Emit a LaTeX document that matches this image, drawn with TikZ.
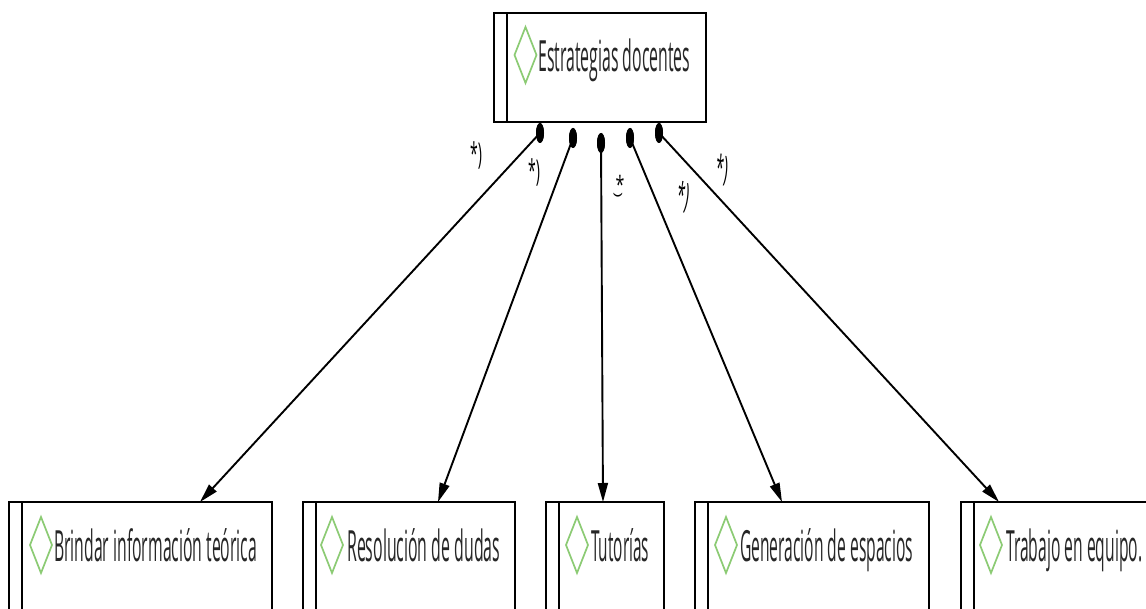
\documentclass[tikz,border=0pt]{standalone}
\usepackage{fontspec}
\setmainfont{Open Sans}
\usetikzlibrary{shapes.geometric,arrows.meta,calc}
\definecolor{diagreen}{HTML}{8CCB74}
\definecolor{txtgray}{HTML}{262626}
\newcommand\lbl[2]{\resizebox{#1pt}{\height}{\fontsize{43}{43}\selectfont #2}}
\newcommand\dmd[1]{\draw[diagreen,line width=1.7pt] ($(#1)+(0,-28)$) -- ($(#1)+(11,0)$) -- ($(#1)+(0,28)$) -- ($(#1)+(-11,0)$) -- cycle;}
\tikzset{
  box/.style={draw=black, line width=2.8pt, rectangle, anchor=north west, inner sep=0pt, outer sep=0pt, fill=white},
  innerline/.style={line width=2pt},
  dot/.style={ellipse, fill=black, minimum width=8pt, minimum height=20pt, inner sep=0pt},
  conn/.style={line width=1.9pt, -{Triangle[length=19pt,width=10pt]}},
  txt/.style={anchor=base west, inner sep=0pt, text=txtgray},
  mult/.style={inner sep=0pt, font=\fontsize{20}{20}\selectfont}
}
\begin{document}
\begin{tikzpicture}[x=1pt,y=-1pt]
\useasboundingbox (0,0) rectangle (1146,609);
\clip (0,0) rectangle (1146,609);
\fill[white] (0,0) rectangle (1146,609);
% top box
\node[box, minimum width=212pt, minimum height=109pt] (top) at (494,13) {};
\draw[innerline] ($(top.north west)+(13,0)$) -- ($(top.south west)+(13,0)$);
\coordinate (d0) at (525.5,55); \dmd{d0}
\node[txt] (t0) at (538,72) {\lbl{152}{Estrategias docentes}};
% bottom boxes
\node[box, minimum width=263pt, minimum height=130pt] (b1) at (9,502) {};
\node[box, minimum width=212pt, minimum height=130pt] (b2) at (303,502) {};
\node[box, minimum width=118pt, minimum height=130pt] (b3) at (546,502) {};
\node[box, minimum width=234pt, minimum height=130pt] (b4) at (695,502) {};
\node[box, minimum width=234pt, minimum height=130pt] (b5) at (961,502) {};
\foreach \b in {b1,b2,b3,b4,b5}{
  \draw[innerline] ($(\b.north west)+(13,0)$) -- ($(\b.south west)+(13,0)$);
}
\coordinate (d1) at (41,545); \dmd{d1}
\coordinate (d2) at (332,545); \dmd{d2}
\coordinate (d3) at (577,545); \dmd{d3}
\coordinate (d4) at (726,545); \dmd{d4}
\coordinate (d5) at (991,545); \dmd{d5}
\node[txt] (t1) at (54,561) {\lbl{203}{Brindar información teórica}};
\node[txt] (t2) at (347,561) {\lbl{153}{Resolución de dudas}};
\node[txt] (t3) at (591,561) {\lbl{58}{Tutorías}};
\node[txt] (t4) at (740,561) {\lbl{173}{Generación de espacios}};
\node[txt] (t5) at (1006,561) {\lbl{136}{Trabajo en equipo.}};
% arrow ends
\coordinate (e1) at (200,502);
\coordinate (e2) at (438,502);
\coordinate (e3) at (603,502);
\coordinate (e4) at (782,502);
\coordinate (e5) at (999,502);
% dots
\node[dot] (s1) at (540,133) {};
\node[dot] (s2) at (573,138) {};
\node[dot] (s3) at (601,143) {};
\node[dot] (s4) at (630,138) {};
\node[dot] (s5) at (659,133) {};
\draw[conn] (s1.center) -- (e1);
\draw[conn] (s2.center) -- (e2);
\draw[conn] (s3.center) -- (e3);
\draw[conn] (s4.center) -- (e4);
\draw[conn] (s5.center) -- (e5);
\node[dot] at (s1) {};
\node[dot] at (s2) {};
\node[dot] at (s3) {};
\node[dot] at (s4) {};
\node[dot] at (s5) {};
% multiplicity labels
\node[mult] (m1) at (476,155) {\scalebox{0.7}[1.5]{*)}};
\node[mult] (m2) at (534,172) {\scalebox{0.7}[1.5]{*)}};
\node[mult] (m3a) at (620,184) {\scalebox{0.8}[1.2]{*}};
\node[mult, rotate=-90] (m3b) at (618,195) {\scalebox{0.9}[0.5]{)}};
\node[mult, rotate=-8] (m4) at (683,197) {\scalebox{0.7}[1.7]{*)}};
\node[mult, rotate=-5] (m5) at (722,170) {\scalebox{0.7}[1.7]{*)}};
\end{tikzpicture}
\end{document}
